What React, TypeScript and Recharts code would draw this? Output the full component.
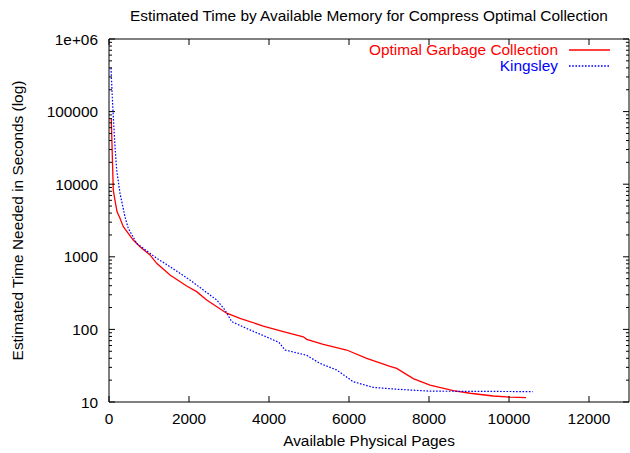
import React from "react";
import { LineChart, Line, XAxis, YAxis, Legend } from "recharts";

const FONT = "'Liberation Sans', Arial, Helvetica, sans-serif";
const FS = 15.4;

const TITLE = "Estimated Time by Available Memory for Compress Optimal Collection";
const X_LABEL = "Available Physical Pages";
const Y_LABEL = "Estimated Time Needed in Seconds (log)";

// Optimal Garbage Collection (red, solid)
const optimalPages = [57, 107, 150, 200, 275, 357, 607, 775, 1025, 1192, 1525, 1942, 2192, 2442, 2942, 3275, 3857, 4357, 4857, 4942, 5357, 5942, 6442, 7025, 7192, 7607, 8025, 8607, 9025, 9607, 10025, 10425];
const optimalTime = [79000, 8300, 6000, 4200, 3400, 2600, 1700, 1380, 1060, 813, 561, 396, 331, 254, 167, 142, 111, 93, 79, 73, 62, 52, 40, 31, 29, 21, 17.1, 14.3, 13.2, 12.1, 11.7, 11.5];

// Kingsley (blue, dotted)
const kingsleyPages = [50, 82, 107, 150, 192, 275, 400, 482, 692, 1192, 1525, 2025, 2357, 2692, 2900, 3067, 3442, 4025, 4250, 4400, 4942, 5275, 5692, 6107, 6607, 7192, 8025, 9357, 10592];
const kingsleyTime = [400000, 160000, 85000, 33000, 15700, 7500, 3550, 2460, 1530, 955, 731, 479, 349, 254, 185, 128, 103, 75, 66, 52, 44, 34, 27.6, 19, 15.9, 15, 14.1, 14, 13.9];

const xTicks = [0, 2000, 4000, 6000, 8000, 10000, 12000];
const yMajorTicks = [10, 100, 1000, 10000, 100000, 1000000];
const yMajorLabels = ["10", "100", "1000", "10000", "100000", "1e+06"];
const yMinorTicks = yMajorTicks.slice(0, -1).flatMap((d) => [2, 3, 4, 5, 6, 7, 8, 9].map((m) => m * d));
const yTicks = [...yMajorTicks, ...yMinorTicks].sort((a, b) => a - b);

const seriesOrder = ["Optimal Garbage Collection", "Kingsley"];
const dashes: Record<string, string | undefined> = { Kingsley: "1.6 1.6" };

const optimalData = optimalPages.map((p, i) => ({ pages: p, time: optimalTime[i] }));
const kingsleyData = kingsleyPages.map((p, i) => ({ pages: p, time: kingsleyTime[i] }));

const BottomTick = ({ x, y, payload }: any) => (
  <g>
    <line x1={x} x2={x} y1={y} y2={y - 6} stroke="#000" />
    <text x={x} y={y + 22} textAnchor="middle" fill="#000" fontSize={FS}>{payload.value}</text>
  </g>
);

const TopTick = ({ x, y }: any) => <line x1={x} x2={x} y1={y} y2={y + 6} stroke="#000" />;

const LeftTick = ({ x, y, payload }: any) => {
  const idx = yMajorTicks.indexOf(payload.value);
  const major = idx >= 0;
  return (
    <g>
      <line x1={x} x2={x + (major ? 6 : 3)} y1={y} y2={y} stroke="#000" />
      {major && (
        <text x={x - 11} y={y} dy="0.36em" textAnchor="end" fill="#000" fontSize={FS}>{yMajorLabels[idx]}</text>
      )}
    </g>
  );
};

const RightTick = ({ x, y, payload }: any) => {
  const major = yMajorTicks.includes(payload.value);
  return <line x1={x} x2={x - (major ? 6 : 3)} y1={y} y2={y} stroke="#000" />;
};

const renderLegend = ({ payload }: any) => {
  const items = [...(payload || [])].sort((a: any, b: any) => seriesOrder.indexOf(a.value) - seriesOrder.indexOf(b.value));
  return (
    <div style={{ width: 630, boxSizing: "border-box", paddingRight: 20, fontFamily: FONT, fontSize: FS }}>
      {items.map((entry: any) => (
        <div key={entry.value} style={{ display: "flex", alignItems: "center", justifyContent: "flex-end", height: 16 }}>
          <span style={{ color: entry.color, lineHeight: "16px" }}>{entry.value}</span>
          <svg width={41} height={4} style={{ marginLeft: 11, display: "block" }}>
            <line x1={0} x2={41} y1={2} y2={2} stroke={entry.color} strokeWidth={1.3} strokeDasharray={dashes[entry.value]} />
          </svg>
        </div>
      ))}
    </div>
  );
};

export default function App() {
  return (
    <div style={{ position: "absolute", left: 0, top: 0, width: 630, height: 453, background: "#fff", fontFamily: FONT }}>
      <LineChart width={630} height={453} margin={{ top: 38, right: 0, bottom: 0, left: 0 }}>
        <XAxis
          xAxisId="bottom"
          dataKey="pages"
          type="number"
          domain={[0, 13000]}
          allowDataOverflow
          ticks={xTicks}
          interval={0}
          height={51}
          tickLine={false}
          tickSize={0}
          tickMargin={0}
          tick={<BottomTick />}
          stroke="#000"
          label={{ value: X_LABEL, position: "insideBottom", offset: 7, fontSize: FS, fill: "#000" }}
        />
        <XAxis
          xAxisId="top"
          orientation="top"
          dataKey="pages"
          type="number"
          domain={[0, 13000]}
          allowDataOverflow
          ticks={xTicks}
          interval={0}
          height={1}
          tickLine={false}
          tickSize={0}
          tickMargin={0}
          tick={<TopTick />}
          stroke="#000"
          label={{ value: TITLE, position: "top", offset: 17, fontSize: FS, fill: "#000" }}
        />
        <YAxis
          yAxisId="left"
          scale="log"
          type="number"
          domain={[10, 1000000]}
          allowDataOverflow
          ticks={yTicks}
          interval={0}
          width={109}
          tickLine={false}
          tickSize={0}
          tickMargin={0}
          tick={<LeftTick />}
          stroke="#000"
          label={{ value: Y_LABEL, angle: -90, position: "insideLeft", offset: 18, fontSize: FS, fill: "#000", style: { textAnchor: "middle" } }}
        />
        <YAxis
          yAxisId="right"
          orientation="right"
          scale="log"
          type="number"
          domain={[10, 1000000]}
          allowDataOverflow
          ticks={yTicks}
          interval={0}
          width={1}
          tickLine={false}
          tickSize={0}
          tickMargin={0}
          tick={<RightTick />}
          stroke="#000"
        />
        <Legend
          content={renderLegend}
          layout="vertical"
          align="center"
          verticalAlign="middle"
          wrapperStyle={{ top: 42, left: 0, width: 630 }}
        />
        <Line
          data={optimalData}
          xAxisId="bottom"
          yAxisId="left"
          dataKey="time"
          name="Optimal Garbage Collection"
          type="linear"
          stroke="#ff0000"
          strokeWidth={1.3}
          dot={false}
          isAnimationActive={false}
        />
        <Line
          data={kingsleyData}
          xAxisId="bottom"
          yAxisId="left"
          dataKey="time"
          name="Kingsley"
          type="linear"
          stroke="#0000ff"
          strokeWidth={1.2}
          strokeDasharray="1.6 1.6"
          dot={false}
          isAnimationActive={false}
        />
      </LineChart>
    </div>
  );
}
